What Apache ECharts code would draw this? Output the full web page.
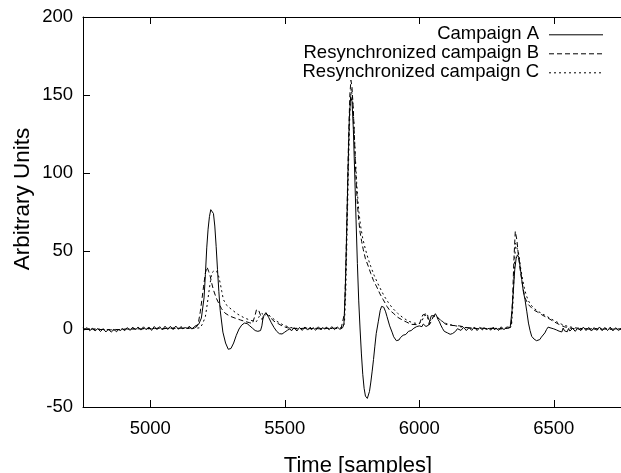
<!DOCTYPE html>
<html>
<head>
<meta charset="utf-8">
<script src="https://cdn.jsdelivr.net/npm/echarts@6/dist/echarts.min.js"></script>
<style>html,body{margin:0;padding:0;background:#fff}#c{width:621px;height:473px}</style>
</head>
<body>
<div id="c"></div>
<script>
const seriesNames = ['Campaign A', 'Resynchronized campaign B', 'Resynchronized campaign C'];
const xTicks = [5000, 5500, 6000, 6500];
const yTicks = [-50, 0, 50, 100, 150, 200];
const xTitle = 'Time [samples]';
const yTitle = 'Arbitrary Units';

const campaignA = [
[4750,0.8],[4755,-0.6],[4760,-0.3],[4765,0.9],[4770,0.2],[4775,-1.1],[4780,-0.8],[4785,0.4],[4790,0.1],[4795,-1.2],[4800,-0.5],[4805,0.3],[4810,0.6],[4815,-1.6],[4820,-1.0],[4825,0.2],[4830,-0.4],[4835,-1.9],[4840,-1.3],[4845,-0.1],[4850,-0.6],[4855,-2.0],[4860,-1.5],[4865,-0.3],[4870,-0.8],[4875,-1.8],[4880,-0.2],[4885,-1.4],[4890,-1.0],[4895,0.4],[4900,0.3],[4905,-1.1],[4910,-0.4],[4915,0.9],[4920,0.5],[4925,-0.9],[4930,-0.2],[4935,1.2],[4940,0.8],[4945,-0.6],[4950,0.0],[4955,1.3],[4960,0.6],[4965,-0.7],[4970,-0.3],[4975,1.4],[4980,0.9],[4985,-0.5],[4990,0.2],[4995,1.3],[5000,0.4],[5005,-0.9],[5010,-0.5],[5015,1.6],[5020,1.0],[5025,-0.4],[5030,0.3],[5035,1.5],[5040,0.7],[5045,-0.6],[5050,-0.2],[5055,1.8],[5060,1.2],[5065,-0.3],[5070,0.4],[5075,1.7],[5080,0.8],[5085,-0.4],[5090,0.1],[5095,1.9],[5100,1.1],[5105,-0.2],[5110,0.5],[5115,1.6],[5120,0.2],[5125,1.4],[5130,0.9],[5135,-0.3],[5140,0.3],[5145,1.8],[5150,1.0],[5155,-0.1],[5160,0.6],[5165,1.7],
[5170,1.5],[5180,3],[5190,7],[5200,20],[5205,35],[5210,52],[5215,64],[5220,72],[5225,76.5],[5230,77.5],[5235,74],[5240,66],[5245,53],[5250,38],[5255,24],[5260,12],[5270,-2],[5280,-9],[5290,-13],[5300,-12.5],[5310,-9],[5320,-4],[5330,0],[5340,2.5],[5350,3.8],[5360,3.5],[5370,2],[5380,0.5],[5390,-1],[5400,-1.5],[5410,-1],[5415,2],[5420,8],[5430,10.5],[5440,7.5],[5450,4],[5460,1],[5470,-1.5],[5480,-3],[5490,-3.2],[5500,-2],[5510,-0.8],[5520,0.2],
[5525,-1.2],[5530,-0.5],[5535,0.9],[5540,0.2],[5545,-1.3],[5550,-0.6],[5555,1.0],[5560,0.5],[5565,-0.9],[5570,-0.3],[5575,1.3],[5580,0.8],[5585,-0.7],[5590,0.1],[5595,1.2],[5600,-0.4],[5605,0.9],[5610,0.6],[5615,-0.8],[5620,-0.2],[5625,1.4],[5630,0.4],[5635,-0.6],[5640,0.9],[5645,1.6],[5650,-0.1],[5655,1.2],[5660,0.5],[5665,-0.5],[5670,0.2],[5675,1.5],[5680,0.7],[5685,-0.4],[5690,-0.3],[5695,1.3],[5700,0.6],[5705,-0.2],[5710,1.0],[5715,0.8],
[5720,3],[5725,25],[5730,60],[5735,100],[5740,135],[5745,149],[5750,146],[5755,128],[5760,100],[5765,70],[5770,42],[5775,18],[5780,0],[5785,-16],[5790,-29],[5795,-38],[5800,-43],[5807,-44.5],[5815,-40],[5820,-34],[5825,-27],[5830,-19.5],[5835,-11],[5840,-3],[5848,5],[5855,12],[5860,14.5],[5868,14],[5875,11],[5880,8],[5890,2],[5900,-2.5],[5905,-5],[5910,-5.5],[5915,-7.5],[5920,-6.5],[5925,-7],[5930,-5.5],[5935,-5.8],[5940,-4],[5945,-4.8],[5950,-3.5],[5955,-3.2],[5960,-1.5],[5965,-2.4],[5970,-1],[5975,-0.2],[5980,0.5],[5985,-0.3],[5990,1.5],[5995,0.8],[6000,2],[6005,0.9],[6010,1.5],[6015,3.2],[6020,2.5],[6025,1.6],[6030,2.8],[6035,2.5],[6040,6],[6045,8.5],[6050,7.5],[6055,8.5],[6060,9.8],[6065,8.2],[6070,6],[6075,4.6],[6080,2.5],[6087,0.2],[6093,-1.5],[6099,-1.2],[6105,-2.5],[6110,-2.2],[6115,-3.4],[6120,-2.5],[6124,-2.9],[6130,-1.8],[6135,-1.5],[6142,0.2],[6149,0.6],
[6155,-0.9],[6160,-0.3],[6165,1.1],[6170,0.5],[6175,-1.0],[6180,-0.5],[6185,0.9],[6190,0.4],[6195,-0.9],[6200,-0.2],[6205,1.3],[6210,0.6],[6215,-1.0],[6220,-0.4],[6225,1.0],[6230,0.3],[6235,-0.6],[6240,0.8],[6245,1.5],[6250,-0.3],[6255,0.9],[6260,0.5],[6265,-0.8],[6270,0.1],[6275,1.2],[6280,-0.6],[6285,0.7],[6290,0.4],[6295,-0.9],[6300,-0.2],[6305,1.4],[6310,0.7],[6315,-0.5],[6320,0.0],[6325,1.3],[6330,0.5],
[6338,1],[6345,12],[6350,25],[6355,38],[6360,45],[6365,47.5],[6370,46],[6375,40],[6381,31.6],[6387,24],[6393,19],[6400,11],[6406,3.8],[6412,-1],[6418,-4.7],[6423,-5.5],[6427,-6.5],[6432,-6],[6436,-7.5],[6442,-6.4],[6448,-6.8],[6454,-5.2],[6460,-5],[6467,-2.5],[6473,-0.4],[6479,1.2],[6485,1.7],[6490,0.6],[6495,1.4],[6500,0.1],[6505,0.8],[6510,-0.6],[6515,0.5],
[6520,-1.4],[6525,-0.8],[6530,-1.9],[6535,0.6],[6540,-1.2],[6545,-0.5],[6550,-1.8],[6555,0.3],[6560,-1.3],[6565,-1.0],[6570,0.4],[6575,0.2],[6580,-1.5],[6585,-0.6],[6590,0.9],[6595,0.5],[6600,-1.1],[6605,-0.3],[6610,1.2],[6615,0.7],[6620,-1.0],[6625,-0.4],[6630,1.0],[6635,0.2],[6640,-1.3],[6645,-0.7],[6650,0.9],[6655,0.4],[6660,-0.9],[6665,-0.2],[6670,1.3],[6675,0.6],[6680,-1.1],[6685,-0.5],[6690,1.0],[6695,0.3],[6700,-1.0],[6705,-0.3],[6710,1.2],[6715,0.5],[6720,-1.2],[6725,-0.6],[6730,0.8],[6735,0.2],[6740,-0.9],[6745,-0.2],[6750,0.1]
];

const campaignB = [
[4750,0.2],[4770,-0.3],[4790,0.1],[4810,-0.4],[4830,-0.2],[4850,-0.6],[4870,-0.3],[4890,-0.5],[4910,0.1],[4930,-0.1],[4950,0.3],[4970,0.0],[4990,0.4],[5010,0.1],[5030,0.5],[5050,0.2],[5070,0.6],[5090,0.3],[5110,0.5],[5130,0.4],[5150,0.7],[5165,0.8],
[5174,1.7],[5180,5],[5186,11],[5192,18.8],[5198,27],[5205,36],[5211,39.7],[5217,37],[5223,33.7],[5229,29],[5235,25],[5245,20],[5254,16.7],[5265,13],[5278,10.2],[5295,8.3],[5315,7],[5335,5.8],[5351,4.9],[5370,4],[5380,3.5],[5386,4],[5390,9],[5395,12.4],[5403,12],[5410,11],[5416,6],[5422,8],[5431,10],[5445,7.5],[5460,5],[5475,3.5],[5493,1.7],[5510,0.8],[5530,0.4],
[5550,0.1],[5570,0.5],[5590,0.2],[5610,0.4],[5630,0.1],[5650,0.5],[5670,0.3],[5690,0.6],[5710,0.7],
[5717,1.5],[5722,10],[5727,40],[5732,80],[5737,120],[5742,150],[5746,159.5],[5750,155],[5755,140],[5760,118],[5765,96],[5770,80],[5775,70],[5780,62],[5786,56],[5792,50.8],[5800,45],[5811,40],[5820,35.5],[5830,31],[5842,27],[5854,22.5],[5866,18.8],[5880,14.5],[5890,12],[5903,10.2],[5920,7.5],[5940,5.5],[5952,4.5],[5970,3],[5989,2.8],[6000,3],[6007,4],[6013,9],[6019,10.2],[6030,10],[6034,6],[6038,2.8],[6045,5],[6052,8],[6060,9],[6070,7],[6085,5],[6099,3],[6120,2.3],[6149,2],[6175,1],[6200,0.4],
[6220,0.2],[6240,0.5],[6260,0.1],[6280,0.4],[6300,0.0],[6320,0.3],[6335,0.6],
[6342,2],[6347,20],[6352,45],[6357,62.6],[6363,57],[6369,46.5],[6375,38],[6381,31.6],[6387,25],[6393,20],[6400,17.5],[6406,15.6],[6415,14],[6424,12.4],[6440,10.8],[6455,9.2],[6467,8],[6479,7],[6495,5.3],[6510,3.8],[6525,2.5],[6540,1.4],[6560,0.6],[6577,0.2],
[6600,-0.2],[6620,0.2],[6640,-0.3],[6660,0.1],[6680,-0.2],[6700,0.2],[6720,-0.1],[6750,0.1]
];

const campaignC = [
[4750,-0.2],[4770,0.2],[4790,-0.4],[4810,0.0],[4830,-0.5],[4850,-0.3],[4870,-0.7],[4890,-0.2],[4910,-0.4],[4930,0.2],[4950,0.0],[4970,0.4],[4990,0.1],[5010,0.3],[5030,0.6],[5050,0.2],[5070,0.5],[5090,0.7],[5110,0.3],[5130,0.6],[5150,0.4],[5170,0.5],
[5186,0.8],[5195,3.5],[5205,8],[5212,16],[5219,25],[5224,31],[5229,36],[5238,37.5],[5247,37],[5254,34],[5260,29.5],[5266,24],[5272,18.8],[5285,15],[5303,12.4],[5325,9.5],[5351,7],[5375,5.5],[5395,4.8],[5405,8],[5415,10],[5425,8.5],[5435,10],[5450,7.5],[5470,5],[5495,2.5],[5520,1],[5540,0.5],
[5560,0.2],[5580,0.6],[5600,0.1],[5620,0.5],[5640,0.3],[5660,0.6],[5680,0.2],[5700,0.5],[5715,0.8],
[5722,4],[5727,25],[5732,65],[5737,105],[5742,138],[5747,154],[5752,148],[5757,132],[5762,112],[5768,92],[5775,76],[5782,66],[5790,58],[5800,51],[5810,45],[5820,40],[5832,34.5],[5845,29.5],[5858,25],[5870,21],[5885,17],[5900,13.5],[5920,10],[5940,7.2],[5960,5],[5980,3.8],[6000,3.5],[6010,5],[6018,8.5],[6028,9],[6036,5],[6045,6],[6055,8],[6065,8],[6080,5.5],[6100,3.5],[6130,2.2],[6160,1.2],[6190,0.6],
[6210,0.3],[6230,0.6],[6250,0.2],[6270,0.5],[6290,0.1],[6310,0.4],[6335,0.5],
[6343,2],[6348,15],[6353,38],[6358,55],[6364,56],[6370,48],[6377,39],[6384,32],[6391,26],[6398,21.5],[6406,18],[6415,15.5],[6425,13.5],[6440,11.5],[6455,10],[6470,8.5],[6485,7],[6500,5.5],[6515,4.2],[6530,3],[6550,1.8],[6570,1],[6590,0.5],
[6610,0.2],[6630,-0.1],[6650,0.3],[6670,0.0],[6690,0.2],[6710,-0.2],[6730,0.1],[6750,0.0]
];

const FONT = 'Liberation Sans, Arial, sans-serif';
const dashes = ['solid', [5, 3], [2, 3]];
const chart = echarts.init(document.getElementById('c'), null, {renderer: 'canvas'});

const axisLineStyle = {show: true, onZero: false, lineStyle: {color: '#000', width: 1}};
const legendRows = [34.3, 53.3, 72.3];

const graphics = [
  {type: 'text', x: 358, y: 465.5, style: {text: xTitle, font: '22px ' + FONT, fill: '#000', align: 'center', verticalAlign: 'middle'}},
  {type: 'text', x: 22.7, y: 199, rotation: Math.PI / 2, style: {text: yTitle, font: '22.5px ' + FONT, fill: '#000', align: 'center', verticalAlign: 'middle'}}
];
seriesNames.forEach((n, i) => {
  graphics.push({type: 'text', x: 539, y: legendRows[i], style: {text: n, font: '18.5px ' + FONT, fill: '#000', align: 'right', verticalAlign: 'middle'}});
  graphics.push({type: 'line', shape: {x1: 549, y1: legendRows[i] + 0.5, x2: 603, y2: legendRows[i] + 0.5},
    style: {stroke: '#000', lineWidth: 1, lineDash: dashes[i] === 'solid' ? null : dashes[i]}});
});

chart.setOption({
  animation: false,
  backgroundColor: '#fff',
  grid: {left: 83, top: 17, bottom: 66, right: -6},
  xAxis: [
    {type: 'value', position: 'bottom', min: 4750, max: 6750,
     axisLine: axisLineStyle,
     axisTick: {show: true, inside: true, length: 7, customValues: xTicks, lineStyle: {color: '#000'}},
     axisLabel: {customValues: xTicks, margin: 12, color: '#000', fontSize: 18.5, fontFamily: FONT, formatter: v => String(v)},
     splitLine: {show: false}},
    {type: 'value', position: 'top', min: 4750, max: 6750,
     axisLine: axisLineStyle,
     axisTick: {show: true, inside: true, length: 7, customValues: xTicks, lineStyle: {color: '#000'}},
     axisLabel: {show: false},
     splitLine: {show: false}}
  ],
  yAxis: [
    {type: 'value', min: yTicks[0], max: yTicks[yTicks.length - 1], interval: 50, position: 'left',
     axisLine: axisLineStyle,
     axisTick: {show: true, inside: true, length: 7, lineStyle: {color: '#000'}},
     axisLabel: {margin: 10, color: '#000', fontSize: 18.5, fontFamily: FONT, formatter: v => String(v)},
     splitLine: {show: false}}
  ],
  series: [campaignC, campaignB, campaignA].map((d, k) => {
    const i = 2 - k;
    return {type: 'line', name: seriesNames[i], data: d, xAxisIndex: 0, yAxisIndex: 0,
      symbol: 'none', smooth: false, silent: true,
      lineStyle: {color: '#000', width: 1, type: dashes[i]}};
  }),
  graphic: graphics
});
</script>
</body>
</html>
